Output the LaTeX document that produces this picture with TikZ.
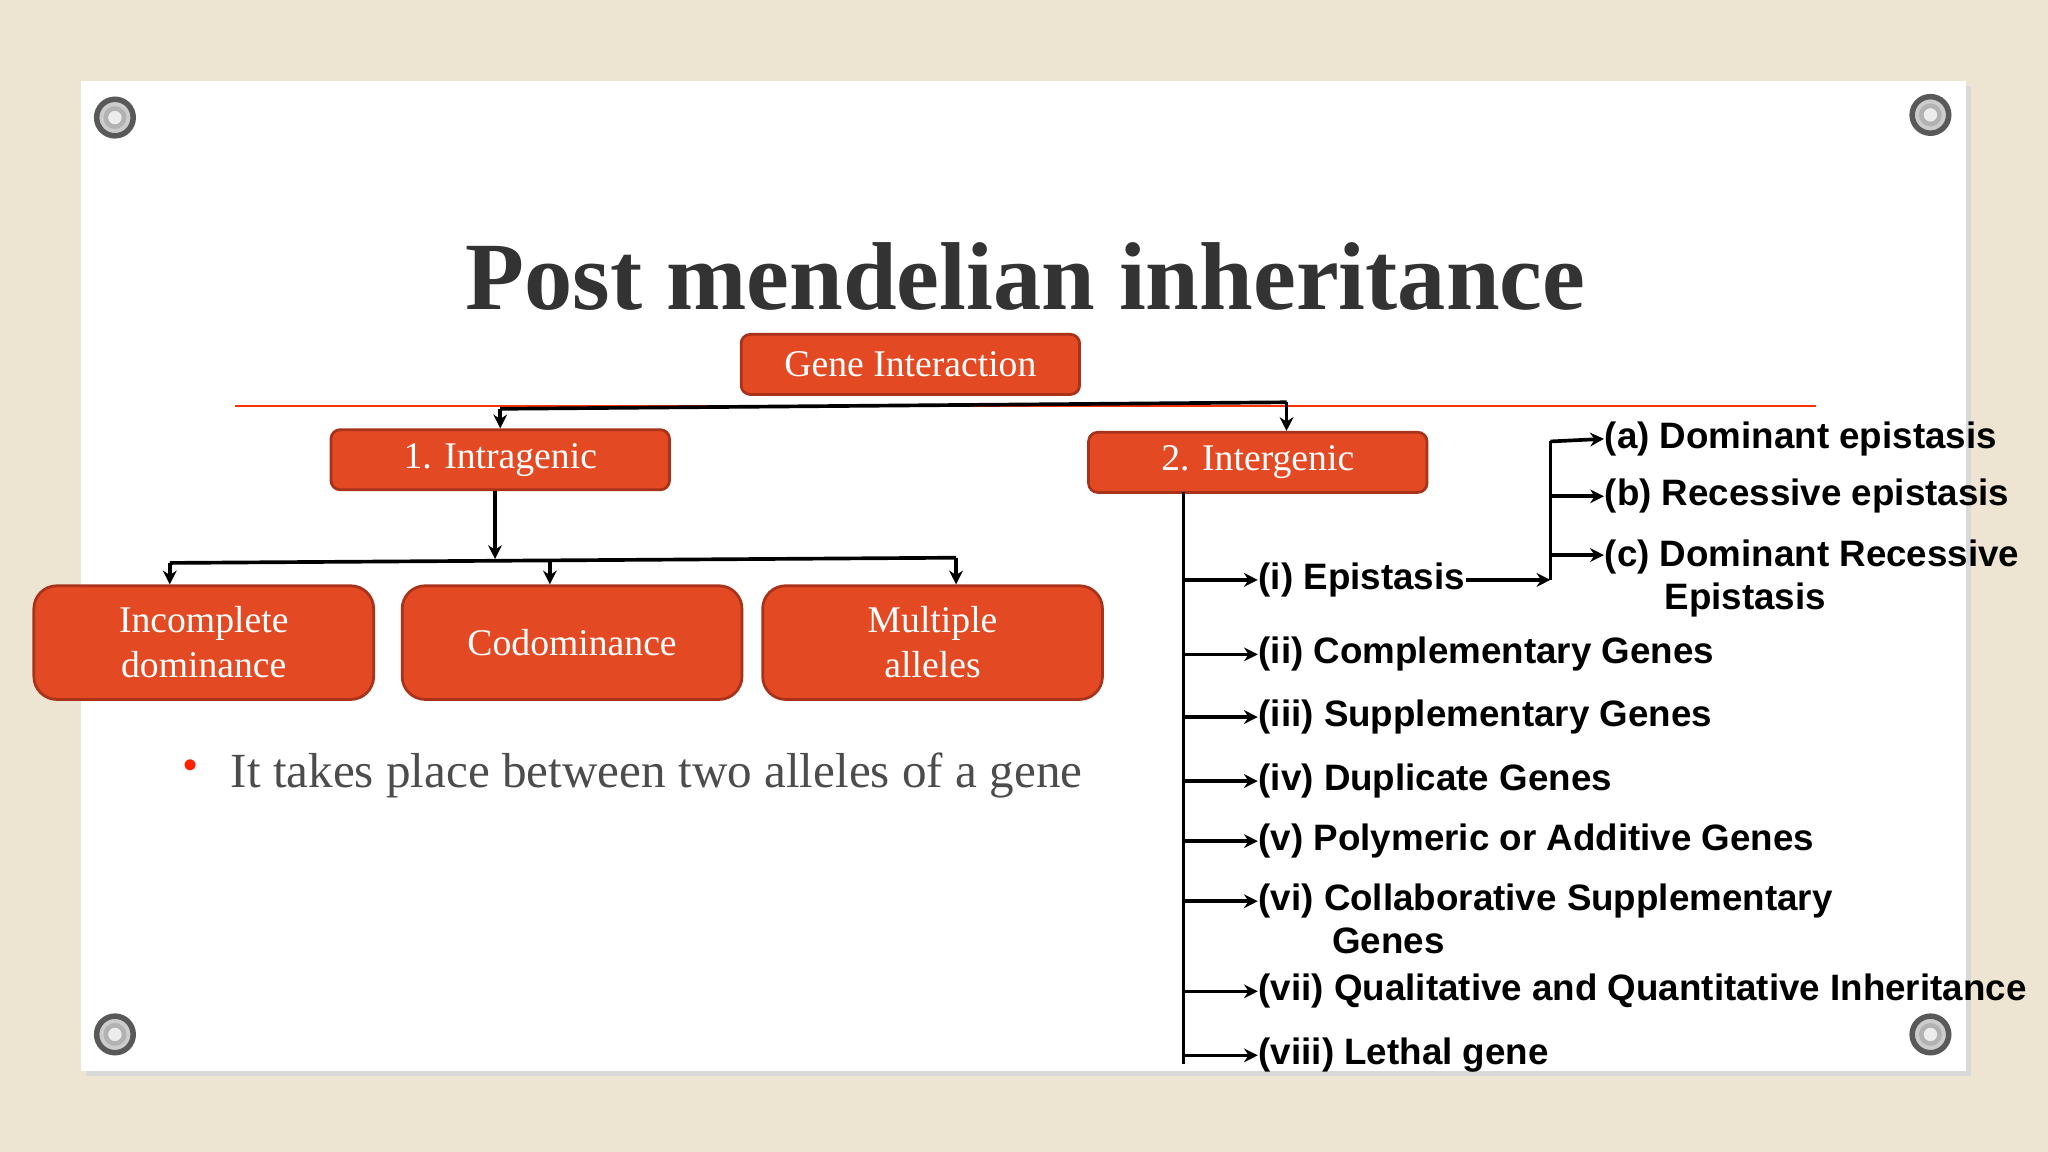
\documentclass[tikz,border=0pt]{standalone}
\usepackage{fontspec}
\setmainfont{Liberation Serif}
\setsansfont{Liberation Sans}
\usetikzlibrary{arrows.meta}
\definecolor{bg}{HTML}{EDE5D2}
\definecolor{boxc}{HTML}{E34A24}
\definecolor{boxd}{HTML}{A8321A}
\tikzset{
  obox/.style={draw=boxd,line width=0.6pt,fill=boxc,rounded corners=2pt,text=white,font=\fontsize{8.2}{9.8}\selectfont,align=center,inner sep=0pt},
  lab/.style={anchor=west,font=\sffamily\bfseries\fontsize{8}{9.3}\selectfont,inner sep=0pt,align=left},
  conn/.style={line width=0.8pt,-{Stealth[length=3pt,width=3pt]}},
  ln/.style={line width=0.8pt},
  screw/.style={draw=gray!70!black,fill=gray!40,line width=1.2pt}
}
\begin{document}
\begin{tikzpicture}[x=0.01cm,y=-0.01cm]
\useasboundingbox (0,0) rectangle (1568,882);
\fill[bg] (0,0) rectangle (1568,882);
\fill[black!15] (66,66) rectangle (1509,824);
\fill[white] (62,62) rectangle (1505,820);
\foreach \p in {(88,90),(1478,88),(88,792),(1478,792)}
  {\draw[screw] \p circle (14); \draw[gray!60,fill=white!85!gray,line width=1pt] \p circle (7);}
\node[font=\fontsize{21}{25}\selectfont\bfseries,text=black!80] (title) at (785,212) {Post mendelian inheritance};
\draw[red!60!orange,line width=0.5pt] (180,311) -- (1390,311);
\node[obox,minimum width=2.59cm,minimum height=0.46cm] (gi) at (697,279) {Gene Interaction};
\node[obox,minimum width=2.59cm,minimum height=0.46cm] (ia) at (383,352) {1. Intragenic};
\node[obox,minimum width=2.59cm,minimum height=0.46cm] (ie) at (963,354) {2. Intergenic};
\node[obox,minimum width=2.6cm,minimum height=0.87cm,rounded corners=5pt] (inc) at (156,492) {Incomplete\\dominance};
\node[obox,minimum width=2.6cm,minimum height=0.87cm,rounded corners=5pt] (cod) at (438,492) {Codominance};
\node[obox,minimum width=2.6cm,minimum height=0.87cm,rounded corners=5pt] (mul) at (714,492) {Multiple\\alleles};
% top connectors
\coordinate (h1) at (383,313); \coordinate (h2) at (985,308);
\draw[ln] (h1) -- (h2);
\draw[conn] (h1) -- (ia.north);
\draw[conn] (h2) -- (ie.north -| h2);
% intragenic connectors
\coordinate (v1) at (379,428);
\draw[conn] (ia.south -| v1) -- (v1);
\coordinate (l1) at (130,431); \coordinate (l2) at (732,427);
\draw[ln] (l1) -- (l2);
\draw[conn] (l1) -- (inc.north -| l1);
\draw[conn] (421,429) -- (cod.north -| 421,0);
\draw[conn] (l2) -- (mul.north -| l2);
\node[text=red!75!orange,font=\fontsize{10}{12}\selectfont] (bul) at (146,590) {\textbullet};
\node[anchor=west,text=black!70,font=\fontsize{10.7}{12}\selectfont,inner sep=0pt] (btxt) at (176,594) {It takes place between two alleles of a gene};
% intergenic
\coordinate (vt) at (906,377); \coordinate (vb) at (906,815);
\draw[ln] (vt) -- (vb);
\foreach \n/\y/\t in {e/444/{(i) Epistasis},c/501/{(ii) Complementary Genes},s/549/{(iii) Supplementary Genes},d/598/{(iv) Duplicate Genes},p/644/{(v) Polymeric or Additive Genes},q/759/{(vii) Qualitative and Quantitative Inheritance},l/808/{(viii) Lethal gene}}{
  \node[lab] (\n) at (963,\y) {\t};
  \draw[conn] (906,\y) -- (\n.west);
}
\node[lab,anchor=north west] (cs) at (963,676) {(vi) Collaborative Supplementary\\\hspace{16pt}Genes};
\draw[conn] (906,690) -- (963,690);
% epistasis sub
\coordinate (ej) at (1187,444);
\draw[conn] (e.east) -- (ej);
\draw[ln] (1187,338) -- (ej);
\node[lab] (ea) at (1228,336) {(a) Dominant epistasis};
\node[lab] (eb) at (1228,380) {(b) Recessive epistasis};
\node[lab,anchor=north west] (ec) at (1228,413) {(c) Dominant Recessive\\\hspace{13pt}Epistasis};
\draw[conn] (1187,338) -- (ea.west);
\draw[conn] (1187,380) -- (eb.west);
\draw[conn] (1187,425) -- (1228,425);
\end{tikzpicture}
\end{document}
